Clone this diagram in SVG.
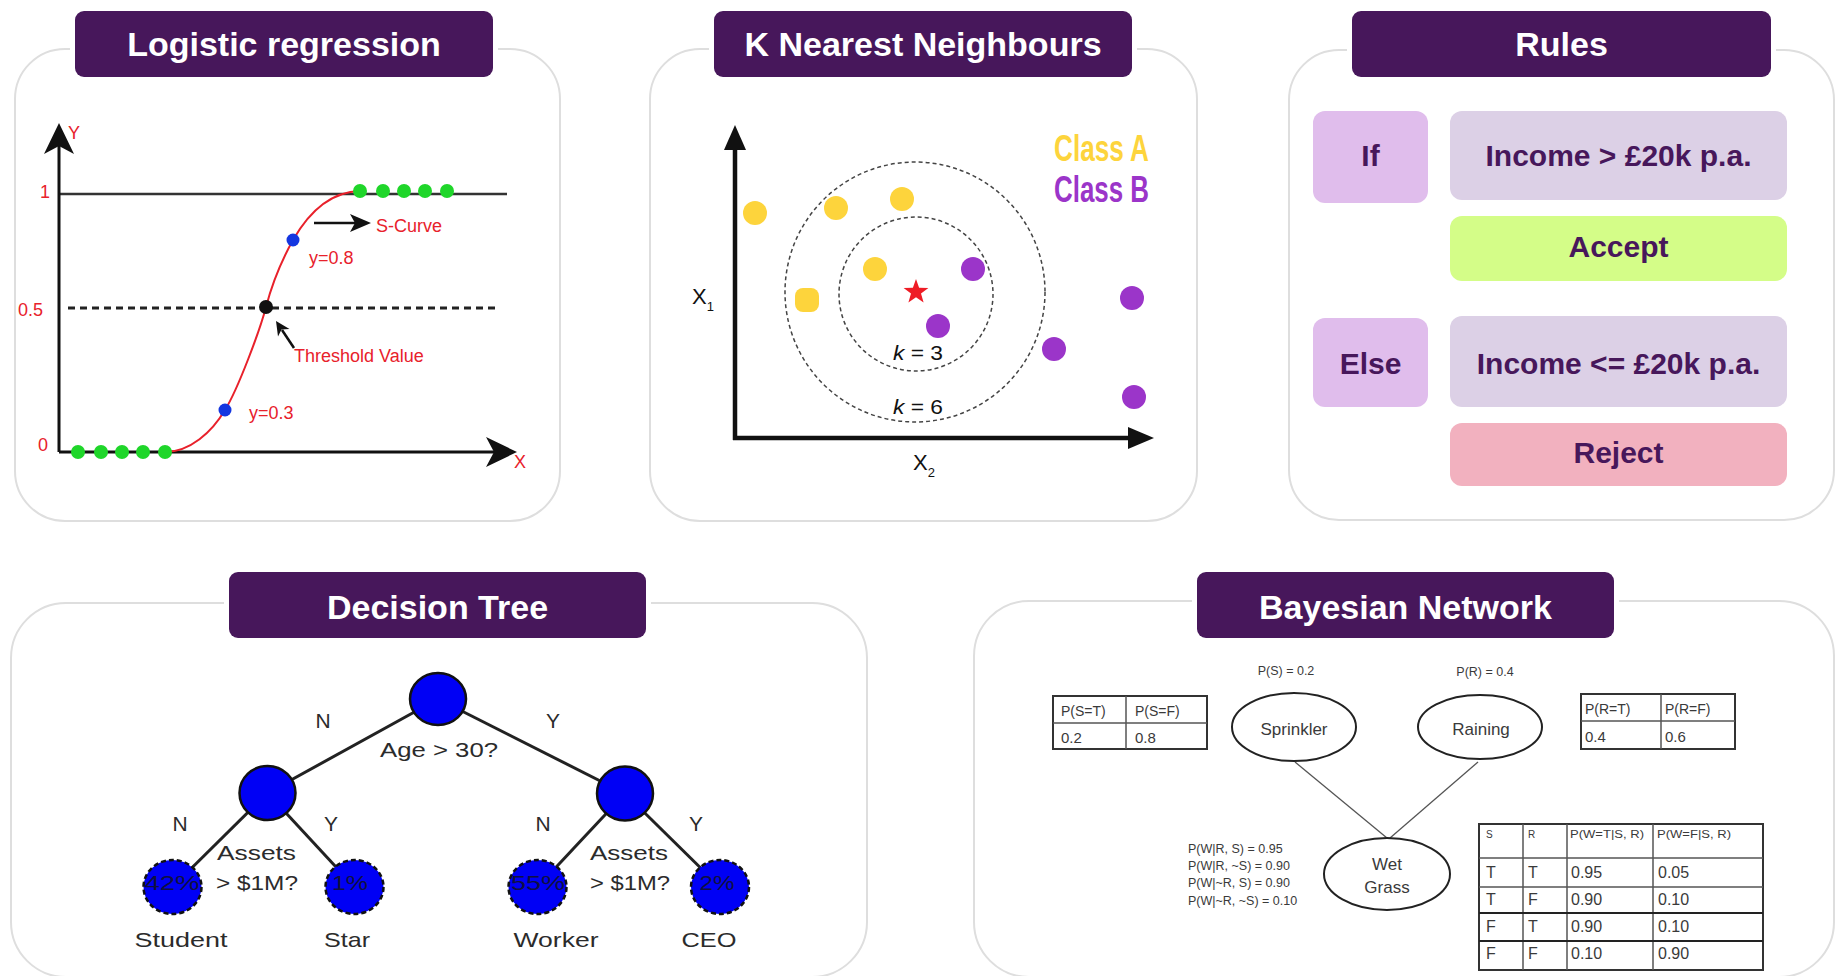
<svg xmlns="http://www.w3.org/2000/svg" width="1836" height="976" viewBox="0 0 1836 976">
  <style>
    .panel{fill:#fff;stroke:#dedede;stroke-width:2}
    .gap{fill:#fff}
    .tbox{fill:#47175b}
    .ttl{font-family:"Liberation Sans",Arial,sans-serif;font-weight:bold;font-size:34px;fill:#fff;text-anchor:middle}
    .red{font-family:"Liberation Sans",Arial,sans-serif;font-size:18px;fill:#e8212b}
    .axis{stroke:#111;stroke-width:3;fill:none}
    .ink{fill:#111}
    .gdot{fill:#1fd62a}
    .bdot{fill:#1436e0}
    .ya{fill:#fdd43c}
    .pb{fill:#9b35c9}
    .ring{fill:none;stroke:#444;stroke-width:1.5;stroke-dasharray:4 3}
    .knn{font-family:"Liberation Sans",Arial,sans-serif;fill:#111}
    .cls{font-family:"Liberation Sans",Arial,sans-serif;font-weight:bold;font-size:36px}
    .rule{font-family:"Liberation Sans",Arial,sans-serif;font-weight:bold;font-size:30px;fill:#47175b;text-anchor:middle}
    .cond{fill:#dcd0e6}
    .kw{fill:#e0bdec}
    .tree{font-family:"Liberation Sans",Arial,sans-serif;font-size:21px;fill:#2b2b2b;text-anchor:middle}
    .node{fill:#0000f5;stroke:#111;stroke-width:2.5}
    .leaf{fill:#0000f5;stroke:#111;stroke-width:2.5;stroke-dasharray:5 3}
    .pct{font-family:"Liberation Sans",Arial,sans-serif;font-size:21px;fill:#101040;text-anchor:middle}
    .edge{stroke:#222;stroke-width:3;fill:none}
    .bl{stroke:#555;stroke-width:1.3;fill:none}
    .ell{fill:#fff;stroke:#222;stroke-width:2}
    .bn{font-family:"Liberation Sans",Arial,sans-serif;fill:#3a3a3a}
    .tb{fill:#fff;stroke:#333;stroke-width:2}
    .tl{stroke:#555;stroke-width:1.5}
  </style>

  <!-- Logistic regression -->
  <g id="logistic-regression">
    <rect class="panel" x="15" y="49" width="545" height="472" rx="50"/>
    <rect class="gap" x="70" y="6" width="428" height="76"/>
    <rect class="tbox" x="75" y="11" width="418" height="66" rx="9"/>
    <text class="ttl" x="284" y="56">Logistic regression</text>

    <line x1="59" y1="194" x2="507" y2="194" stroke="#333" stroke-width="2.5"/>
    <line x1="68" y1="308" x2="499" y2="308" stroke="#222" stroke-width="3" stroke-dasharray="7 5"/>
    <line class="axis" x1="59" y1="140" x2="59" y2="452"/>
    <line class="axis" x1="59" y1="452" x2="496" y2="452"/>
    <path class="ink" d="M59,123 L74,154 L59,146 L44,154 Z"/>
    <path class="ink" d="M517,452 L486,437 L494,452 L486,467 Z"/>

    <text class="red" x="68" y="139" font-size="22">Y</text>
    <text class="red" x="514" y="468" font-size="22">X</text>
    <text class="red" x="40" y="198" font-size="19">1</text>
    <text class="red" x="18" y="316" font-size="19">0.5</text>
    <text class="red" x="38" y="451" font-size="19">0</text>

    <path d="M165,452 C190,452 212,432 225,410 C238,389 260,330 266,307 C272,284 283,258 293,240 C305,219 325,192 360,191" fill="none" stroke="#e8212b" stroke-width="2"/>

    <circle class="gdot" cx="78" cy="452" r="7"/>
    <circle class="gdot" cx="101" cy="452" r="7"/>
    <circle class="gdot" cx="122" cy="452" r="7"/>
    <circle class="gdot" cx="143" cy="452" r="7"/>
    <circle class="gdot" cx="165" cy="452" r="7"/>
    <circle class="gdot" cx="360" cy="191" r="7"/>
    <circle class="gdot" cx="383" cy="191" r="7"/>
    <circle class="gdot" cx="404" cy="191" r="7"/>
    <circle class="gdot" cx="425" cy="191" r="7"/>
    <circle class="gdot" cx="447" cy="191" r="7"/>
    <circle class="bdot" cx="225" cy="410" r="6.5"/>
    <circle class="bdot" cx="293" cy="240" r="6.5"/>
    <circle class="ink" cx="266" cy="307" r="7"/>

    <line x1="314" y1="223" x2="358" y2="223" stroke="#111" stroke-width="2.5"/>
    <path class="ink" d="M371,223 L350,214 L355,223 L350,232 Z"/>
    <text class="red" x="376" y="232">S-Curve</text>
    <text class="red" x="309" y="264">y=0.8</text>
    <text class="red" x="249" y="419">y=0.3</text>

    <line x1="294" y1="348" x2="282" y2="330" stroke="#111" stroke-width="2.5"/>
    <path class="ink" d="M276,321 L289.5,329 L281.5,329.5 L278,336.5 Z"/>
    <text class="red" x="294" y="362">Threshold Value</text>
  </g>

  <!-- K nearest neighbours -->
  <g id="k-nearest-neighbours">
    <rect class="panel" x="650" y="49" width="547" height="472" rx="50"/>
    <rect class="gap" x="709" y="6" width="428" height="76"/>
    <rect class="tbox" x="714" y="11" width="418" height="66" rx="9"/>
    <text class="ttl" x="923" y="56">K Nearest Neighbours</text>

    <line x1="735" y1="145" x2="735" y2="440" stroke="#111" stroke-width="4.5"/>
    <line x1="733" y1="438" x2="1130" y2="438" stroke="#111" stroke-width="4.5"/>
    <path class="ink" d="M735,125 L746,150 L724,150 Z"/>
    <path class="ink" d="M1154,438 L1128,427 L1128,449 Z"/>

    <text class="knn" x="692" y="304" font-size="22">X<tspan font-size="13" dy="7">1</tspan></text>
    <text class="knn" x="913" y="470" font-size="22">X<tspan font-size="13" dy="7">2</tspan></text>

    <circle class="ring" cx="915" cy="292" r="130"/>
    <circle class="ring" cx="916" cy="294" r="77"/>
    <text class="knn" x="918" y="360" font-size="20" text-anchor="middle" textLength="50" lengthAdjust="spacingAndGlyphs"><tspan font-style="italic">k</tspan> = 3</text>
    <text class="knn" x="918" y="414" font-size="20" text-anchor="middle" textLength="50" lengthAdjust="spacingAndGlyphs"><tspan font-style="italic">k</tspan> = 6</text>

    <circle class="ya" cx="755" cy="213" r="12"/>
    <circle class="ya" cx="836" cy="208" r="12"/>
    <circle class="ya" cx="902" cy="199" r="12"/>
    <circle class="ya" cx="875" cy="269" r="12"/>
    <rect class="ya" x="795" y="288" width="24" height="24" rx="8"/>
    <circle class="pb" cx="973" cy="269" r="12"/>
    <circle class="pb" cx="938" cy="326" r="12"/>
    <circle class="pb" cx="1054" cy="349" r="12"/>
    <circle class="pb" cx="1132" cy="298" r="12"/>
    <circle class="pb" cx="1134" cy="397" r="12"/>

    <path fill="#ee1c25" d="M916,279 L919.1,287.7 L928.4,288 L921,293.6 L923.6,302.5 L916,297.3 L908.4,302.5 L911,293.6 L903.6,288 L912.9,287.7 Z"/>

    <text class="cls" x="1054" y="161" fill="#fdd43c" textLength="95" lengthAdjust="spacingAndGlyphs">Class A</text>
    <text class="cls" x="1054" y="202" fill="#9b35c9" textLength="95" lengthAdjust="spacingAndGlyphs">Class B</text>
  </g>

  <!-- Rules -->
  <g id="rules">
    <rect class="panel" x="1289" y="50" width="545" height="470" rx="50"/>
    <rect class="gap" x="1347" y="6" width="429" height="76"/>
    <rect class="tbox" x="1352" y="11" width="419" height="66" rx="9"/>
    <text class="ttl" x="1561.5" y="56">Rules</text>

    <rect class="kw" x="1313" y="111" width="115" height="92" rx="12"/>
    <rect class="cond" x="1450" y="111" width="337" height="89" rx="12"/>
    <rect x="1450" y="216" width="337" height="65" rx="12" fill="#d4fd88"/>
    <rect class="kw" x="1313" y="318" width="115" height="89" rx="12"/>
    <rect class="cond" x="1450" y="316" width="337" height="91" rx="12"/>
    <rect x="1450" y="423" width="337" height="63" rx="12" fill="#f2b1bf"/>

    <text class="rule" x="1370.5" y="166">If</text>
    <text class="rule" x="1618.5" y="166">Income &gt; £20k p.a.</text>
    <text class="rule" x="1618.5" y="257">Accept</text>
    <text class="rule" x="1370.5" y="374">Else</text>
    <text class="rule" x="1618.5" y="374">Income &lt;= £20k p.a.</text>
    <text class="rule" x="1618.5" y="463">Reject</text>
  </g>

  <!-- Decision tree frame -->
  <g id="decision-tree">
    <rect class="panel" x="11" y="603" width="856" height="374" rx="55"/>
    <rect class="gap" x="224" y="567" width="427" height="76"/>
    <rect class="tbox" x="229" y="572" width="417" height="66" rx="9"/>
    <text class="ttl" x="437.5" y="619">Decision Tree</text>
  </g>

  <!-- Bayesian network frame -->
  <g id="bayesian-network">
    <rect class="panel" x="974" y="601" width="860" height="376" rx="55"/>
    <rect class="gap" x="1192" y="567" width="427" height="76"/>
    <rect class="tbox" x="1197" y="572" width="417" height="66" rx="9"/>
    <text class="ttl" x="1405.5" y="619">Bayesian Network</text>
  </g>

  <!-- Connectors: tree branches and network arcs -->
  <g id="connectors">
    <line class="edge" x1="438" y1="699" x2="267.5" y2="793"/>
    <line class="edge" x1="438" y1="699" x2="625" y2="793.5"/>
    <line class="edge" x1="267.5" y1="793" x2="172.5" y2="887"/>
    <line class="edge" x1="267.5" y1="793" x2="354.5" y2="887"/>
    <line class="edge" x1="625" y1="793.5" x2="537.5" y2="887"/>
    <line class="edge" x1="625" y1="793.5" x2="720" y2="887"/>
    <line class="bl" x1="1295" y1="762" x2="1387" y2="838"/>
    <line class="bl" x1="1478" y1="762" x2="1390" y2="838"/>
  </g>

  <!-- Tree nodes -->
  <g id="tree-root">
    <ellipse class="node" cx="438" cy="699" rx="28" ry="26"/>
    <text class="tree" x="439" y="757" textLength="118" lengthAdjust="spacingAndGlyphs">Age &gt; 30?</text>
  </g>
  <g id="tree-branch-labels">
    <text class="tree" x="323" y="728">N</text>
    <text class="tree" x="553" y="728">Y</text>
    <text class="tree" x="180" y="831">N</text>
    <text class="tree" x="331" y="831">Y</text>
    <text class="tree" x="543" y="831">N</text>
    <text class="tree" x="696" y="831">Y</text>
  </g>
  <g id="tree-assets-left">
    <ellipse class="node" cx="267.5" cy="793" rx="28" ry="27"/>
    <text class="tree" x="256.5" y="860" textLength="79" lengthAdjust="spacingAndGlyphs">Assets</text>
    <text class="tree" x="257" y="890" textLength="82" lengthAdjust="spacingAndGlyphs">&gt; $1M?</text>
  </g>
  <g id="tree-assets-right">
    <ellipse class="node" cx="625" cy="793.5" rx="28" ry="27"/>
    <text class="tree" x="629" y="860" textLength="78" lengthAdjust="spacingAndGlyphs">Assets</text>
    <text class="tree" x="630" y="890" textLength="80" lengthAdjust="spacingAndGlyphs">&gt; $1M?</text>
  </g>
  <g id="leaf-student">
    <ellipse class="leaf" cx="172.5" cy="887" rx="29" ry="27"/>
    <text class="pct" x="172" y="890" textLength="55" lengthAdjust="spacingAndGlyphs">42%</text>
    <text class="tree" x="181" y="947" textLength="93" lengthAdjust="spacingAndGlyphs">Student</text>
  </g>
  <g id="leaf-star">
    <ellipse class="leaf" cx="354.5" cy="887" rx="29" ry="27"/>
    <text class="pct" x="350" y="890" textLength="36" lengthAdjust="spacingAndGlyphs">1%</text>
    <text class="tree" x="347" y="947" textLength="46" lengthAdjust="spacingAndGlyphs">Star</text>
  </g>
  <g id="leaf-worker">
    <ellipse class="leaf" cx="537.5" cy="887" rx="29" ry="27"/>
    <text class="pct" x="538" y="890" textLength="54" lengthAdjust="spacingAndGlyphs">55%</text>
    <text class="tree" x="556" y="947" textLength="85" lengthAdjust="spacingAndGlyphs">Worker</text>
  </g>
  <g id="leaf-ceo">
    <ellipse class="leaf" cx="720" cy="887" rx="29" ry="27"/>
    <text class="pct" x="717" y="890" textLength="35" lengthAdjust="spacingAndGlyphs">2%</text>
    <text class="tree" x="709" y="947" textLength="55" lengthAdjust="spacingAndGlyphs">CEO</text>
  </g>

  <!-- Network nodes -->
  <g id="bn-sprinkler">
    <text class="bn" x="1286" y="675" font-size="12.5" text-anchor="middle">P(S) = 0.2</text>
    <ellipse class="ell" cx="1294" cy="727" rx="62" ry="34"/>
    <text class="bn" x="1294" y="735" font-size="17" text-anchor="middle">Sprinkler</text>
    <rect class="tb" x="1053" y="696" width="154" height="53"/>
    <line class="tl" x1="1126" y1="696" x2="1126" y2="749"/>
    <line class="tl" x1="1053" y1="723" x2="1207" y2="723"/>
    <text class="bn" x="1061" y="716" font-size="14">P(S=T)</text>
    <text class="bn" x="1135" y="716" font-size="14">P(S=F)</text>
    <text class="bn" x="1061" y="743" font-size="15">0.2</text>
    <text class="bn" x="1135" y="743" font-size="15">0.8</text>
  </g>
  <g id="bn-raining">
    <text class="bn" x="1485" y="676" font-size="12.5" text-anchor="middle">P(R) = 0.4</text>
    <ellipse class="ell" cx="1480" cy="727" rx="62" ry="32"/>
    <text class="bn" x="1481" y="735" font-size="17" text-anchor="middle">Raining</text>
    <rect class="tb" x="1581" y="694" width="154" height="55"/>
    <line class="tl" x1="1661" y1="694" x2="1661" y2="749"/>
    <line class="tl" x1="1581" y1="721" x2="1735" y2="721"/>
    <text class="bn" x="1585" y="714" font-size="14">P(R=T)</text>
    <text class="bn" x="1665" y="714" font-size="14">P(R=F)</text>
    <text class="bn" x="1585" y="742" font-size="15">0.4</text>
    <text class="bn" x="1665" y="742" font-size="15">0.6</text>
  </g>
  <g id="bn-wet-grass">
    <ellipse class="ell" cx="1387" cy="874" rx="63" ry="36"/>
    <text class="bn" x="1387" y="870" font-size="17" text-anchor="middle">Wet</text>
    <text class="bn" x="1387" y="893" font-size="17" text-anchor="middle">Grass</text>
    <g class="bn" font-size="12.5">
      <text x="1188" y="853">P(W|R, S) = 0.95</text>
      <text x="1188" y="870">P(W|R, ~S) = 0.90</text>
      <text x="1188" y="887">P(W|~R, S) = 0.90</text>
      <text x="1188" y="905">P(W|~R, ~S) = 0.10</text>
    </g>
    <rect class="tb" x="1479" y="824" width="284" height="146"/>
    <line class="tl" x1="1523" y1="824" x2="1523" y2="970"/>
    <line class="tl" x1="1567" y1="824" x2="1567" y2="970"/>
    <line class="tl" x1="1653" y1="824" x2="1653" y2="970"/>
    <line class="tl" x1="1479" y1="858" x2="1763" y2="858"/>
    <line class="tl" x1="1479" y1="887" x2="1763" y2="887"/>
    <line x1="1479" y1="913" x2="1763" y2="913" stroke="#222" stroke-width="2"/>
    <line x1="1479" y1="941" x2="1763" y2="941" stroke="#222" stroke-width="2"/>
    <g class="bn" font-size="10">
      <text x="1486" y="838">S</text>
      <text x="1528" y="838">R</text>
      <text x="1570" y="838" textLength="74" lengthAdjust="spacingAndGlyphs">P(W=T|S, R)</text>
      <text x="1657" y="838" textLength="74" lengthAdjust="spacingAndGlyphs">P(W=F|S, R)</text>
    </g>
    <g class="bn" font-size="16">
      <text x="1486" y="878">T</text><text x="1528" y="878">T</text><text x="1571" y="878">0.95</text><text x="1658" y="878">0.05</text>
      <text x="1486" y="905">T</text><text x="1528" y="905">F</text><text x="1571" y="905">0.90</text><text x="1658" y="905">0.10</text>
      <text x="1486" y="932">F</text><text x="1528" y="932">T</text><text x="1571" y="932">0.90</text><text x="1658" y="932">0.10</text>
      <text x="1486" y="959">F</text><text x="1528" y="959">F</text><text x="1571" y="959">0.10</text><text x="1658" y="959">0.90</text>
    </g>
  </g>
</svg>
